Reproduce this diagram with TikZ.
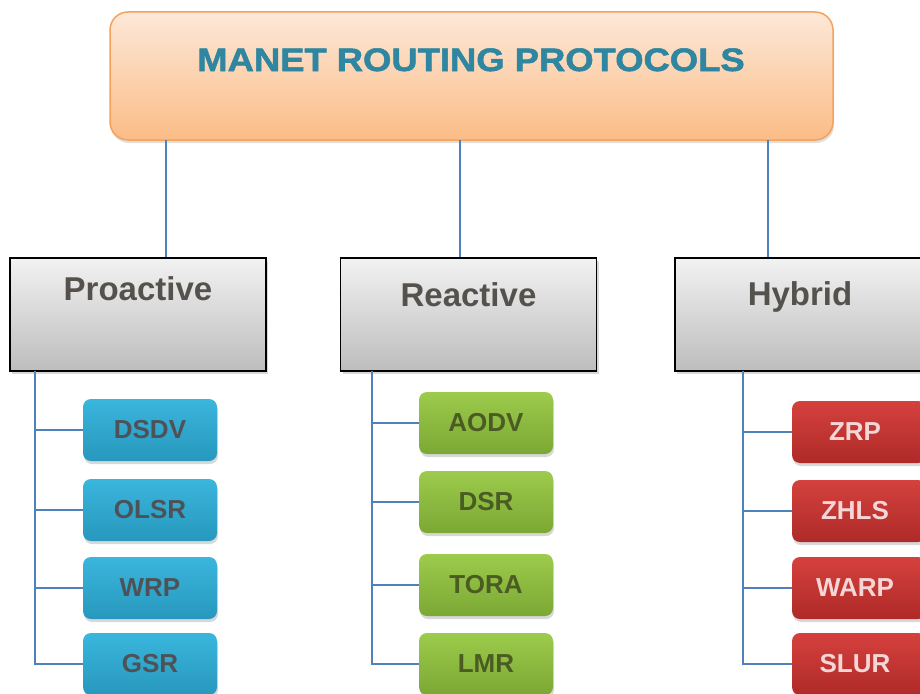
\documentclass[tikz,border=0pt]{standalone}
\usepackage{fontspec}
\setmainfont{Liberation Sans}
\newfontfamily\widefont{Liberation Sans Bold}[FakeStretch=1.12,FakeBold=1.6]
\usetikzlibrary{shadows,calc}
\definecolor{titletxt}{HTML}{2E86A0}
\definecolor{cattxt}{HTML}{55524E}
\definecolor{conncol}{HTML}{4F81BD}
\definecolor{orgborder}{HTML}{F5A25C}
\definecolor{orgtop}{HTML}{FDE8D8}
\definecolor{orgbot}{HTML}{FBBC86}
\definecolor{graytop}{HTML}{F2F2F2}
\definecolor{graybot}{HTML}{BDBDBD}
\definecolor{bluetop}{HTML}{3AB6DC}
\definecolor{bluebot}{HTML}{2897BE}
\definecolor{bluetxt}{HTML}{4E5257}
\definecolor{greentop}{HTML}{9DCB4C}
\definecolor{greenbot}{HTML}{7AA834}
\definecolor{greentxt}{HTML}{4A5C22}
\definecolor{redtop}{HTML}{D5413D}
\definecolor{redbot}{HTML}{AE2A28}
\definecolor{redtxt}{HTML}{F4D6D6}
\tikzset{
  topbox/.style={draw=orgborder, line width=1.5pt, rounded corners=18pt,
    top color=orgtop, bottom color=orgbot, minimum width=723pt, minimum height=128pt,
    drop shadow={shadow xshift=1pt,shadow yshift=-3pt,opacity=0.25}},
  catbox/.style={draw=black, line width=1.8pt, top color=graytop, bottom color=graybot,
    minimum width=256pt, minimum height=113pt,
    drop shadow={shadow xshift=2pt,shadow yshift=-3pt,opacity=0.3}},
  cattext/.style={anchor=base, text=cattxt, font=\fontsize{33}{36}\selectfont\bfseries},
  leafbox/.style={rounded corners=8pt, minimum width=134pt, minimum height=62pt,
    font=\fontsize{26}{28}\selectfont\bfseries,
    drop shadow={shadow xshift=1pt,shadow yshift=-3pt,opacity=0.3}},
  bluebox/.style={leafbox, top color=bluetop, bottom color=bluebot, text=bluetxt},
  greenbox/.style={leafbox, top color=greentop, bottom color=greenbot, text=greentxt},
  redbox/.style={leafbox, top color=redtop, bottom color=redbot, text=redtxt},
  conn/.style={draw=conncol, line width=1.6pt}
}
\begin{document}
\begin{tikzpicture}[x=1pt,y=-1pt]
\useasboundingbox (0,0) rectangle (920,693);
\clip (0,0) rectangle (920,693);
\fill[white] (0,0) rectangle (920,693);

% top
\node[topbox] (top) at (471.5,76) {};
\node[anchor=base, text=titletxt, font=\fontsize{32.5}{34}\selectfont\widefont] (title) at (471,71) {MANET ROUTING PROTOCOLS};

% categories
\node[catbox] (pro) at (138,314.5) {};
\node[cattext] (protxt) at (138,300) {Proactive};
\node[catbox] (rea) at (468.5,314.5) {};
\node[cattext] (reatxt) at (468.5,306) {Reactive};
\node[catbox, minimum width=262pt] (hyb) at (806,314.5) {};
\node[cattext] (hybtxt) at (800,305) {Hybrid};

% top connectors
\coordinate (t1) at (166,140);
\coordinate (t2) at (460,140);
\coordinate (t3) at (768,140);
\draw[conn] (t1) -- (t1 |- pro.north);
\draw[conn] (t2) -- (t2 |- rea.north);
\draw[conn] (t3) -- (t3 |- hyb.north);

% proactive leaves
\node[bluebox] (p1) at (150,430) {DSDV};
\node[bluebox] (p2) at (150,510) {OLSR};
\node[bluebox] (p3) at (150,588) {WRP};
\node[bluebox] (p4) at (150,664) {GSR};
\coordinate (pv) at (35,371);
\draw[conn] (pv) |- (p4.west);
\foreach \n in {p1,p2,p3} \draw[conn] (\n.west) -- (\n.west -| pv);

% reactive leaves
\node[greenbox] (r1) at (486,423) {AODV};
\node[greenbox] (r2) at (486,502) {DSR};
\node[greenbox] (r3) at (486,585) {TORA};
\node[greenbox] (r4) at (486,664) {LMR};
\coordinate (rv) at (372,371);
\draw[conn] (rv) |- (r4.west);
\foreach \n in {r1,r2,r3} \draw[conn] (\n.west) -- (\n.west -| rv);

% hybrid leaves
\node[redbox] (h1) at (859,432) {\hspace*{-8pt}ZRP};
\node[redbox] (h2) at (859,511) {\hspace*{-8pt}ZHLS};
\node[redbox] (h3) at (859,588) {\hspace*{-8pt}WARP};
\node[redbox] (h4) at (859,664) {\hspace*{-8pt}SLUR};
\coordinate (hv) at (743,371);
\draw[conn] (hv) |- (h4.west);
\foreach \n in {h1,h2,h3} \draw[conn] (\n.west) -- (\n.west -| hv);
\end{tikzpicture}
\end{document}
